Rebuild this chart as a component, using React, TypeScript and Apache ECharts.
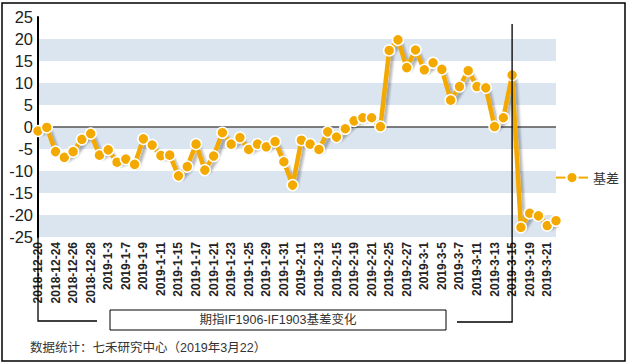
import React, { useEffect, useRef } from "react";
import * as echarts from "echarts";

const dates: string[] = [
  "2018-12-20", "2018-12-21", "2018-12-24", "2018-12-25", "2018-12-26", "2018-12-27", "2018-12-28",
  "2019-1-2", "2019-1-3", "2019-1-4", "2019-1-7", "2019-1-8", "2019-1-9", "2019-1-10", "2019-1-11",
  "2019-1-14", "2019-1-15", "2019-1-16", "2019-1-17", "2019-1-18", "2019-1-21", "2019-1-22",
  "2019-1-23", "2019-1-24", "2019-1-25", "2019-1-28", "2019-1-29", "2019-1-30", "2019-1-31",
  "2019-2-1", "2019-2-11", "2019-2-12", "2019-2-13", "2019-2-14", "2019-2-15", "2019-2-18",
  "2019-2-19", "2019-2-20", "2019-2-21", "2019-2-22", "2019-2-25", "2019-2-26", "2019-2-27",
  "2019-2-28", "2019-3-1", "2019-3-4", "2019-3-5", "2019-3-6", "2019-3-7", "2019-3-8",
  "2019-3-11", "2019-3-12", "2019-3-13", "2019-3-14", "2019-3-15", "2019-3-18", "2019-3-19",
  "2019-3-20", "2019-3-21", "2019-3-22",
];

const basis: number[] = [
  -0.9, -0.1, -5.6, -6.9, -5.6, -2.8, -1.5, -6.4, -5.2, -8.0,
  -7.3, -8.5, -2.7, -4.1, -6.5, -6.4, -11.1, -9.0, -3.9, -9.8,
  -6.6, -1.3, -3.9, -2.4, -5.1, -3.9, -4.5, -3.3, -7.9, -13.2,
  -3.0, -3.9, -5.1, -1.1, -2.3, -0.4, 1.4, 2.1, 2.1, 0.1,
  17.4, 19.8, 13.5, 17.5, 13.0, 14.6, 13.1, 6.1, 9.2, 12.8,
  9.2, 8.9, 0.1, 2.1, 11.8, -22.8, -19.6, -20.2, -22.4, -21.3,
];

const seriesName = "基差";
const markDate = "2019-3-15";
const boxTitle = "期指IF1906-IF1903基差变化";
const sourceNote = "数据统计：七禾研究中心（2019年3月22）";

const LATIN = "'Liberation Sans', Arial, 'Noto Sans CJK SC', sans-serif";

export default function App() {
  const ref = useRef<HTMLDivElement>(null);
  useEffect(() => {
    if (!ref.current) return;
    const chart = echarts.init(ref.current, null, { renderer: "svg" });
    chart.setOption({
      animation: false,
      backgroundColor: "#ffffff",
      grid: { left: 38, right: 72, top: 17, bottom: 127, containLabel: false },
      legend: {
        right: 4,
        top: 166,
        orient: "vertical",
        itemWidth: 32,
        itemHeight: 14,
        textStyle: { fontSize: 13, color: "#333", fontFamily: "'Noto Sans CJK SC', sans-serif" },
        data: [seriesName],
      },
      xAxis: {
        type: "category",
        data: dates,
        boundaryGap: false,
        axisLine: { show: false },
        axisTick: { show: false },
        axisLabel: {
          interval: 1,
          rotate: 90,
          margin: 5,
          fontSize: 12,
          fontWeight: "bold",
          color: "#222",
          fontFamily: LATIN,
        },
        splitLine: { show: false },
      },
      yAxis: {
        type: "value",
        min: -25,
        max: 25,
        interval: 5,
        axisLine: { show: true, onZero: false, lineStyle: { color: "#000", width: 2 } },
        axisTick: { show: false },
        axisLabel: { fontSize: 16.5, color: "#222", margin: 5, fontFamily: LATIN },
        splitLine: { show: false },
        splitArea: { show: true, areaStyle: { color: ["#dbe5f0", "#ffffff"] } },
      },
      series: [
        {
          name: seriesName,
          type: "line",
          data: basis,
          symbol: "circle",
          symbolSize: 11,
          showSymbol: true,
          showAllSymbol: true,
          lineStyle: {
            color: "#f4a900",
            width: 4.5,
            shadowColor: "rgba(0,0,0,0.28)",
            shadowBlur: 2,
            shadowOffsetX: 3,
            shadowOffsetY: 3,
          },
          itemStyle: { color: "#f4a900", borderColor: "#ffffff", borderWidth: 1.5 },
          markLine: {
            silent: true,
            symbol: "none",
            label: { show: false },
            lineStyle: { color: "#555", width: 1.5, type: "solid" },
            data: [{ yAxis: 0 }],
            z: 1,
          },
        },
      ],
    });

    const x0 = chart.convertToPixel({ xAxisIndex: 0 }, dates[0]) as number;
    const xm = chart.convertToPixel({ xAxisIndex: 0 }, markDate) as number;
    const yBottom = chart.convertToPixel({ yAxisIndex: 0 }, -25) as number;

    chart.setOption({
      graphic: [
        {
          type: "rect",
          shape: { x: 2, y: 3, width: 623, height: 358 },
          style: { fill: "none", stroke: "#000", lineWidth: 1.5 },
          silent: true,
          z: 100,
        },
        {
          type: "polyline",
          shape: { points: [[x0, yBottom], [x0, 321], [97, 321]] },
          style: { fill: "none", stroke: "#000", lineWidth: 1.3 },
          silent: true,
          z: 100,
        },
        {
          type: "polyline",
          shape: { points: [[xm, 24], [xm, 322], [457, 322]] },
          style: { fill: "none", stroke: "#000", lineWidth: 1.3 },
          silent: true,
          z: 100,
        },
        {
          type: "rect",
          shape: { x: 110, y: 310, width: 336, height: 20 },
          style: { fill: "#fff", stroke: "#000", lineWidth: 1 },
          silent: true,
          z: 100,
        },
        {
          type: "text",
          x: 278,
          y: 320,
          style: {
            text: boxTitle,
            fontSize: 12.5,
            fill: "#333",
            align: "center",
            verticalAlign: "middle",
            fontFamily: LATIN,
          },
          silent: true,
          z: 101,
        },
        {
          type: "text",
          x: 30,
          y: 348,
          style: {
            text: sourceNote,
            fontSize: 12.5,
            fill: "#333",
            align: "left",
            verticalAlign: "middle",
            fontFamily: LATIN,
          },
          silent: true,
          z: 101,
        },
      ],
    });

    return () => chart.dispose();
  }, []);
  return (
    <div
      ref={ref}
      style={{ position: "fixed", left: 0, top: 0, width: 628, height: 364 }}
    />
  );
}
